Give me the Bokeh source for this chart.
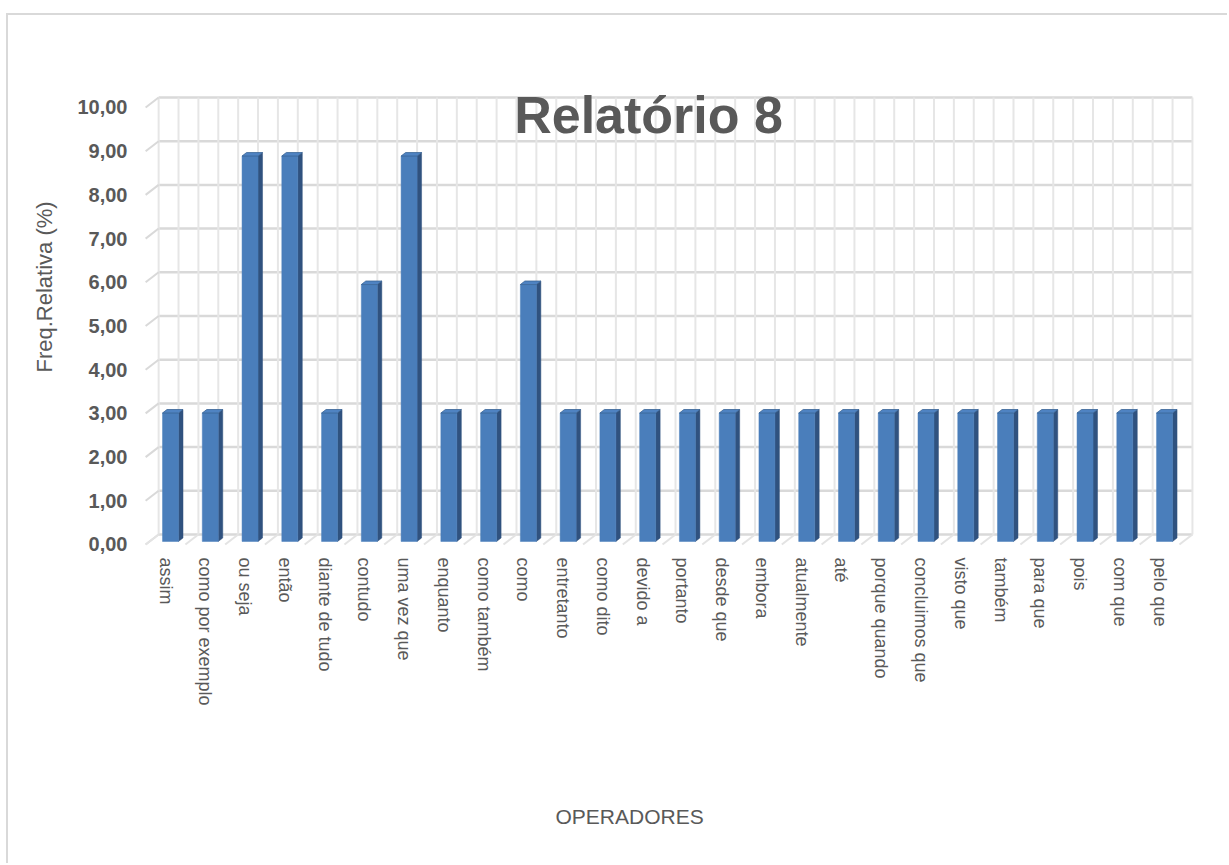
import math
from bokeh.plotting import figure
from bokeh.models import Range1d, FixedTicker, Label, Title
from bokeh.embed import file_html
from bokeh.resources import INLINE

# ---------------- data ----------------
categories = ["assim", "como por exemplo", "ou seja", "então", "diante de tudo",
              "contudo", "uma vez que", "enquanto", "como também", "como",
              "entretanto", "como dito", "devido a", "portanto", "desde que",
              "embora", "atualmente", "até", "porque quando", "concluimos que",
              "visto que", "também", "para que", "pois", "com que", "pelo que"]
values = [2.94, 2.94, 8.82, 8.82, 2.94, 5.88, 8.82, 2.94, 2.94, 5.88,
          2.94, 2.94, 2.94, 2.94, 2.94, 2.94, 2.94, 2.94, 2.94, 2.94,
          2.94, 2.94, 2.94, 2.94, 2.94, 2.94]
y_ticks = [0, 1, 2, 3, 4, 5, 6, 7, 8, 9, 10]
y_tick_labels = ["0,00", "1,00", "2,00", "3,00", "4,00", "5,00",
                 "6,00", "7,00", "8,00", "9,00", "10,00"]
title_text = "Relatório 8"
y_title = "Freq.Relativa (%)"
x_title = "OPERADORES"

# ---------------- geometry (pseudo 3D) ----------------
n = len(categories)
wall_dx, wall_dy = 0.327, 0.229      # back-wall offset (data units)
bar_dx0, bar_dy0 = 0.126, 0.069      # bar front face shift (depth position)
bar_hw = 0.201                        # half width of bar front face
bar_ddx, bar_ddy = 0.113, 0.080      # bar depth

GRAY = "#595959"
FONT = "Liberation Sans"

p = figure(width=1221, height=850, output_backend="svg", toolbar_location=None,
           x_range=Range1d(-0.629, 26.03), y_range=Range1d(-0.1373, 10.503),
           min_border_left=132, min_border_right=29, min_border_top=70,
           min_border_bottom=315, background_fill_color="white",
           border_fill_color="white", outline_line_color=None)
p.styles = {"margin-left": "6px", "margin-top": "13px",
            "border-left": "2px solid #d9d9d9", "border-top": "2px solid #d9d9d9"}
p.grid.visible = False

# back wall horizontal gridlines
x0w, x1w = -0.5 + wall_dx, n - 0.5 + wall_dx
p.multi_line(xs=[[x0w, x1w] for _ in y_ticks],
             ys=[[t + wall_dy, t + wall_dy] for t in y_ticks],
             line_color="#d9d9d9", line_width=2.5)
# back wall vertical gridlines (every half category)
vx = [x0w + 0.5 * k for k in range(2 * n + 1)]
p.multi_line(xs=[[x, x] for x in vx],
             ys=[[wall_dy, y_ticks[-1] + wall_dy] for _ in vx],
             line_color="#e6e6e6", line_width=2)
# side wall diagonals
p.multi_line(xs=[[-0.5, -0.5 + wall_dx] for _ in y_ticks],
             ys=[[t, t + wall_dy] for t in y_ticks],
             line_color="#d9d9d9", line_width=2)
# floor diagonals
fx = [-0.5 + k for k in range(n + 1)]
p.multi_line(xs=[[x, x + wall_dx] for x in fx],
             ys=[[0, wall_dy] for _ in fx],
             line_color="#e3e3e3", line_width=2)

# bars
front_x, front_y, side_x, side_y, top_x, top_y = [], [], [], [], [], []
for i, v in enumerate(values):
    l = i + bar_dx0 - bar_hw
    r = i + bar_dx0 + bar_hw
    b = bar_dy0
    t = v + bar_dy0
    front_x.append([l, r, r, l]); front_y.append([b, b, t, t])
    side_x.append([r, r + bar_ddx, r + bar_ddx, r])
    side_y.append([b, b + bar_ddy, t + bar_ddy, t])
    top_x.append([l, r, r + bar_ddx, l + bar_ddx])
    top_y.append([t, t, t + bar_ddy, t + bar_ddy])
p.patches(side_x, side_y, fill_color="#30527F", line_color="#30527F", line_width=0.5)
p.patches(front_x, front_y, fill_color="#4A7EBB", line_color="#4A7EBB", line_width=0.5)
p.patches(top_x, top_y, fill_color="#4F83C2", line_color="#3A6496", line_width=0.8)

# axes
p.xaxis.ticker = FixedTicker(ticks=list(range(n)))
p.xaxis.major_label_overrides = {i: c for i, c in enumerate(categories)}
p.xaxis.major_label_orientation = -math.pi / 2
p.xaxis.major_label_text_font = FONT
p.xaxis.major_label_text_font_size = "18px"
p.xaxis.major_label_text_color = GRAY
p.xaxis.axis_line_color = None
p.xaxis.major_tick_line_color = None
p.xaxis.minor_tick_line_color = None
p.xaxis.major_tick_out = 0
p.xaxis.major_tick_in = 0
p.xaxis.major_label_standoff = 7

p.yaxis.ticker = FixedTicker(ticks=y_ticks)
p.yaxis.major_label_overrides = {t: s for t, s in zip(y_ticks, y_tick_labels)}
p.yaxis.major_label_text_font = FONT
p.yaxis.major_label_text_font_size = "20px"
p.yaxis.major_label_text_font_style = "bold"
p.yaxis.major_label_text_color = GRAY
p.yaxis.axis_line_color = None
p.yaxis.major_tick_line_color = None
p.yaxis.minor_tick_line_color = None
p.yaxis.major_tick_out = 0
p.yaxis.major_tick_in = 0
p.yaxis.major_label_standoff = 13

# texts
p.add_layout(Label(x=12.148, y=9.817, text=title_text, text_align="center",
                   text_baseline="alphabetic", text_font=FONT,
                   text_font_size="52px", text_font_style="bold", text_color=GRAY))
p.add_layout(Title(text=y_title, align="left", offset=178, standoff=36,
                   text_font=FONT, text_font_size="22px", text_font_style="normal",
                   text_color=GRAY), "left")
# spacer between the category labels and the x-axis title
p.add_layout(Title(text=" ", standoff=86, text_font_size="1px",
                   text_color="white"), "below")
p.add_layout(Title(text=x_title, align="left", offset=415, text_font=FONT,
                   text_font_size="21px", text_font_style="normal",
                   text_color=GRAY), "below")

open("out.html", "w").write(file_html(p, INLINE))
